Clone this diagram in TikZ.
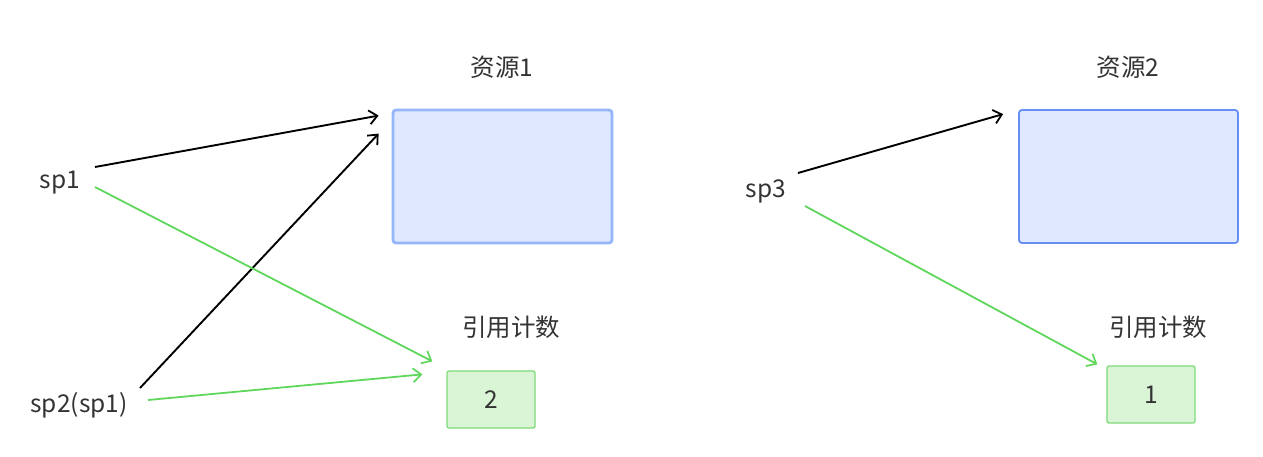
\documentclass[tikz,border=0pt]{standalone}
\usepackage{fontspec}
\setmainfont{Noto Sans CJK SC}
\usetikzlibrary{arrows.meta}
\definecolor{resfill}{RGB}{224,232,255}
\definecolor{resline}{RGB}{102,142,245}
\definecolor{reshalo}{RGB}{150,182,250}
\definecolor{cntfill}{RGB}{217,245,214}
\definecolor{cntline}{RGB}{125,218,120}
\definecolor{refgreen}{RGB}{95,214,92}
\definecolor{txtgray}{RGB}{51,51,51}
\begin{document}
\begin{tikzpicture}[x=1pt, y=-1pt,
  every node/.style={font=\fontsize{24.5}{29}\selectfont, text=txtgray},
  resource/.style={rectangle, draw=resline, fill=resfill, line width=1.8pt, rounded corners=3pt, minimum width=219pt, minimum height=133pt},
  counter/.style={rectangle, draw=cntline, fill=cntfill, line width=1.3pt, rounded corners=2pt, minimum width=88pt, minimum height=57pt},
  label/.style={inner sep=0pt},
  strong/.style={-{Straight Barb[length=8pt, width=14pt, line width=1.8pt]}, line width=1.9pt, black},
  weak/.style={-{Straight Barb[length=8pt, width=14pt, line width=1.7pt]}, line width=1.8pt, refgreen}
]
\useasboundingbox (0,0) rectangle (1263,456);

% Resources
\node[resource, draw=reshalo, line width=2.8pt] (res1) at (502.5,176.5) {};
\node[resource] (res2) at (1128.5,176.5) {};
\node[label] (res1-title) at (502,67) {资源1};
\node[label] (res2-title) at (1128,67) {资源2};

% Reference counts
\node[label] (cnt1-title) at (511,327) {引用计数};
\node[counter] (cnt1) at (491,399.5) {2};
\node[label] (cnt2-title) at (1158,327) {引用计数};
\node[counter] (cnt2) at (1151,394.5) {1};

% Smart pointers
\node[label] (sp1) at (60,183) {sp1};
\node[label] (sp2) at (79,405) {sp2(sp1)};
\node[label] (sp3) at (766,191) {sp3};

% Pointers to resources
\draw[strong] ([shift={(35,-16)}]sp1.center) -- ([shift={(-13,7)}]res1.north west);
\draw[strong] ([shift={(61,-17)}]sp2.center) -- ([shift={(-13,25)}]res1.north west);
\draw[strong] ([shift={(32,-18)}]sp3.center) -- ([shift={(-15,5)}]res2.north west);

% Pointers to reference counts
\draw[weak] ([shift={(35,4)}]sp1.center) -- ([shift={(-14,-9)}]cnt1.north west);
\draw[weak] ([shift={(69,-5)}]sp2.center) -- ([shift={(-24,4)}]cnt1.north west);
\draw[weak] ([shift={(39,15)}]sp3.center) -- ([shift={(-9,-1)}]cnt2.north west);

\end{tikzpicture}
\end{document}
